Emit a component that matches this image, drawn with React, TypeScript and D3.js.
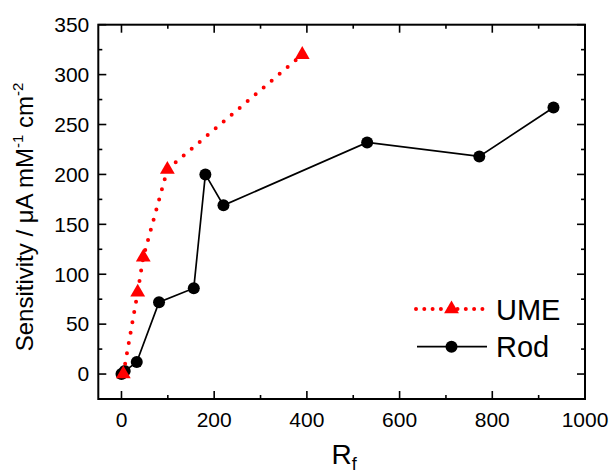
import React, { useEffect, useRef } from "react";
import * as d3 from "d3";

// UME series (red dotted, triangles)
const umeRf = [4, 35, 47, 99, 390];
const umeSens = [0, 82, 117, 205, 320];
// Rod series (black line, circles)
const rodRf = [0, 7, 33, 81, 156, 181, 220, 530, 772, 932];
const rodSens = [0, 3, 12, 72, 86, 200, 169, 232, 218, 267];

const xMajor = [0, 200, 400, 600, 800, 1000];
const xMinor = [100, 300, 500, 700, 900];
const yMajor = [0, 50, 100, 150, 200, 250, 300, 350];
const yMinor = [25, 75, 125, 175, 225, 275, 325];

const FONT = "'Liberation Sans', Arial, sans-serif";

export default function App() {
  const ref = useRef<SVGSVGElement>(null);

  useEffect(() => {
    const svg = d3.select(ref.current);
    svg.selectAll("*").remove();

    // plot frame
    const left = 98.3, right = 585, top = 24.7, bottom = 399;

    const x = d3.scaleLinear().domain([-50, 1000]).range([left, right]);
    const y = d3.scaleLinear().domain([-25, 350]).range([bottom, top]);

    const g = svg.append("g");

    // ticks, all pointing inward
    const tick = (x1, y1, x2, y2) =>
      g.append("line")
        .attr("x1", x1).attr("y1", y1).attr("x2", x2).attr("y2", y2)
        .attr("stroke", "#000").attr("stroke-width", 1.6);

    xMajor.forEach(v => { tick(x(v), bottom, x(v), bottom - 8); tick(x(v), top, x(v), top + 8); });
    xMinor.forEach(v => { tick(x(v), bottom, x(v), bottom - 4); tick(x(v), top, x(v), top + 4); });
    yMajor.forEach(v => { tick(left, y(v), left + 8, y(v)); tick(right, y(v), right - 8, y(v)); });
    yMinor.forEach(v => { tick(left, y(v), left + 4, y(v)); tick(right, y(v), right - 4, y(v)); });

    g.append("rect")
      .attr("x", left).attr("y", top)
      .attr("width", right - left).attr("height", bottom - top)
      .attr("fill", "none").attr("stroke", "#000").attr("stroke-width", 2);

    // tick labels
    g.selectAll(".xl").data(xMajor).enter().append("text")
      .attr("x", d => x(d)).attr("y", bottom + 27.5)
      .attr("text-anchor", "middle")
      .style("font", "21px " + FONT)
      .text(d => d);
    g.selectAll(".yl").data(yMajor).enter().append("text")
      .attr("x", left - 9).attr("y", d => y(d)).attr("dy", "0.35em")
      .attr("text-anchor", "end")
      .style("font", "21px " + FONT)
      .text(d => d);

    // axis titles
    const xt = g.append("text")
      .attr("x", 331.5).attr("y", 464)
      .style("font", "28px " + FONT);
    xt.append("tspan").text("R");
    xt.append("tspan").attr("dy", 6).style("font-size", "18px").text("f");

    const yt = g.append("text")
      .attr("transform", "translate(33,217) rotate(-90)")
      .attr("text-anchor", "middle")
      .style("font", "24px " + FONT);
    yt.append("tspan").text("Sensitivity / \u03bcA mM");
    yt.append("tspan").attr("dy", -10).style("font-size", "15px").text("-1");
    yt.append("tspan").attr("dy", 10).text(" cm");
    yt.append("tspan").attr("dy", -10).style("font-size", "15px").text("-2");

    const line = d3.line<[number, number]>().x(d => x(d[0])).y(d => y(d[1]));
    const ume = umeRf.map((v, i) => [v, umeSens[i]] as [number, number]);
    const rod = rodRf.map((v, i) => [v, rodSens[i]] as [number, number]);

    const tri = d3.symbol().type(d3.symbolTriangle).size(95);

    // Rod
    g.append("path").attr("d", line(rod))
      .attr("fill", "none").attr("stroke", "#000").attr("stroke-width", 1.7);
    g.selectAll(".rod").data(rod).enter().append("circle")
      .attr("cx", d => x(d[0])).attr("cy", d => y(d[1])).attr("r", 6)
      .attr("fill", "#000");

    // UME
    g.append("path").attr("d", line(ume))
      .attr("fill", "none").attr("stroke", "#ff0000").attr("stroke-width", 4)
      .attr("stroke-linecap", "round").attr("stroke-dasharray", "0 10.5");
    g.selectAll(".ume").data(ume).enter().append("path")
      .attr("d", tri())
      .attr("transform", d => `translate(${x(d[0])},${y(d[1])})`)
      .attr("fill", "#ff0000");

    // legend
    const lg = g.append("g");
    lg.append("line").attr("x1", 416).attr("x2", 484).attr("y1", 309).attr("y2", 309)
      .attr("stroke", "#ff0000").attr("stroke-width", 4)
      .attr("stroke-linecap", "round").attr("stroke-dasharray", "0 8.3");
    lg.append("path").attr("d", tri()).attr("transform", "translate(451.5,309)").attr("fill", "#ff0000");
    lg.append("text").attr("x", 496).attr("y", 319.5)
      .style("font", "29px " + FONT).text("UME");

    lg.append("line").attr("x1", 417).attr("x2", 487).attr("y1", 346.7).attr("y2", 346.7)
      .attr("stroke", "#000").attr("stroke-width", 1.7);
    lg.append("circle").attr("cx", 451.5).attr("cy", 346.7).attr("r", 6).attr("fill", "#000");
    lg.append("text").attr("x", 496).attr("y", 357)
      .style("font", "29px " + FONT).text("Rod");
  }, []);

  return (
    <svg ref={ref} width={615} height={473}
      style={{ position: "absolute", left: 0, top: 0, background: "#fff" }} />
  );
}
